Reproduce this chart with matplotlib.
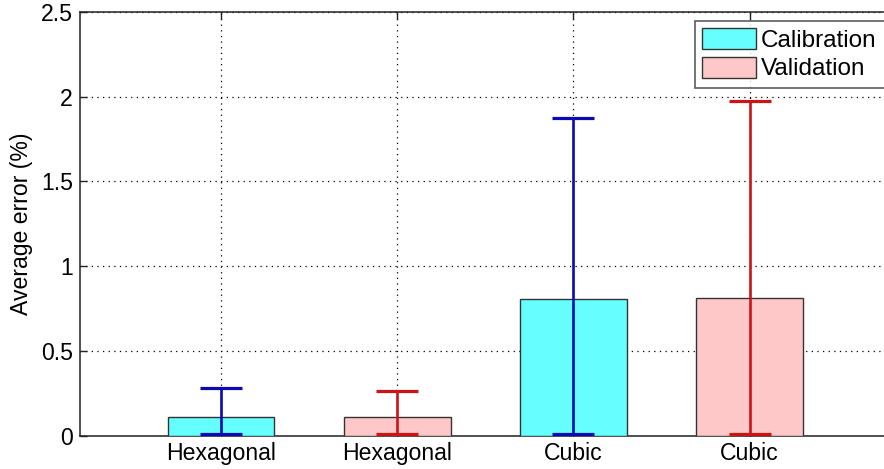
import matplotlib
matplotlib.use("Agg")
import matplotlib.pyplot as plt
import numpy as np

plt.rcParams['font.family'] = ['Liberation Sans', 'DejaVu Sans']

# Data
categories = ["Hexagonal", "Hexagonal", "Cubic", "Cubic"]
groups = ["Calibration", "Validation", "Calibration", "Validation"]
avg_error = [0.114, 0.110, 0.805, 0.812]
err_lower = [0.010, 0.012, 0.010, 0.010]
err_upper = [0.280, 0.265, 1.875, 1.975]
yticks = [0, 0.5, 1, 1.5, 2, 2.5]
ytick_labels = ["0", "0.5", "1", "1.5", "2", "2.5"]

fill_colors = {"Calibration": "#66FFFF", "Validation": "#FFC8C8"}
err_colors = {"Calibration": "#0A0AB4", "Validation": "#CC1414"}

fig = plt.figure(figsize=(8.84, 4.69), dpi=100)
ax = fig.add_axes([0.0905, 0.0704, 0.917, 0.9047])

x = np.arange(1, len(categories) + 1)
vals = np.array(avg_error)
lo = np.array(err_lower)
hi = np.array(err_upper)

handles = {}
for xi, v, g in zip(x, vals, groups):
    b = ax.bar(xi, v, width=0.605, color=fill_colors[g], edgecolor="#333333",
               linewidth=1.0, zorder=3, label=g)
    handles.setdefault(g, b)

for xi, v, l, h, g in zip(x, vals, lo, hi, groups):
    ax.errorbar(xi, v, yerr=[[v - l], [h - v]], fmt="none", ecolor=err_colors[g],
                elinewidth=1.9, capsize=14.8, capthick=2.3, zorder=4)

ax.set_xlim(0.2, 4.8)
ax.set_ylim(0, 2.5)
ax.set_xticks(x)
ax.set_xticklabels(categories, fontsize=16.6)
ax.set_yticks(yticks)
ax.set_yticklabels(ytick_labels, fontsize=16.6)
ax.set_ylabel("Average error (%)", fontsize=16.6, labelpad=6)

ax.grid(True, linestyle=(0, (1, 3.5)), color="black", linewidth=0.9, zorder=1)
ax.set_axisbelow(True)
ax.tick_params(direction="in", length=5, width=1, top=True, right=True,
               pad=5, color="#222222")
ax.tick_params(axis="x", pad=4)
for sp in ax.spines.values():
    sp.set_linewidth(1.1)
    sp.set_color("#222222")

# legend box stretched to the right so its frame runs past the figure edge
leg = ax.legend([handles["Calibration"], handles["Validation"]],
                ["Calibration", "Validation"],
                loc="upper left", bbox_to_anchor=(0.7586, 0.5, 0.25, 0.4788),
                mode="expand",
                fontsize=17.5, frameon=True, fancybox=False,
                handlelength=2.2, handleheight=0.95, labelspacing=0.2,
                handletextpad=0.2, borderpad=0.3, borderaxespad=0.0)
leg.get_frame().set_edgecolor("#333333")
leg.get_frame().set_linewidth(1.2)
leg.set_zorder(10)

fig.savefig("out.png", dpi=100)
